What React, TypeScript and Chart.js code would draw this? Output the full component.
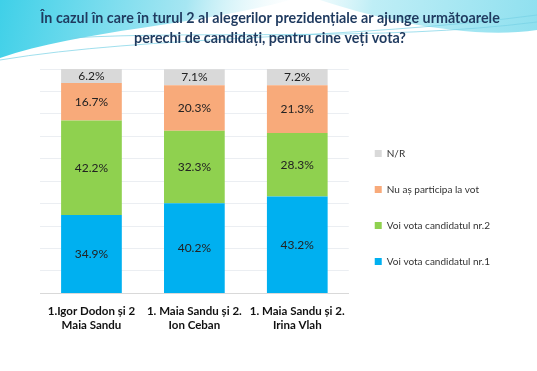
import React, { useEffect, useRef } from "react";
import { Chart, registerables } from "chart.js";

Chart.register(...registerables);

const titleLines = [
  "În cazul în care în turul 2 al alegerilor prezidențiale ar ajunge următoarele",
  "perechi de candidați, pentru cine veți vota?",
];
const categories = [
  ["1.Igor Dodon și 2", "Maia Sandu"],
  ["1. Maia Sandu și 2.", "Ion Ceban"],
  ["1. Maia Sandu și 2.", "Irina Vlah"],
];
const seriesNames = [
  "Voi vota candidatul nr.1",
  "Voi vota candidatul nr.2",
  "Nu aș participa la vot",
  "N/R",
];
const candidate1 = [34.9, 40.2, 43.2];
const candidate2 = [42.2, 32.3, 28.3];
const noVote = [16.7, 20.3, 21.3];
const noAnswer = [6.2, 7.1, 7.2];
const seriesColors = ["#00b0f0", "#8fd14f", "#f8aa7a", "#d9d9d9"];

const bgPlugin = {
  id: "bgWave",
  beforeDraw(chart: any) {
    const { ctx, width } = chart;
    ctx.save();
    ctx.fillStyle = "#ffffff";
    ctx.fillRect(0, 0, width, chart.height);
    let g = ctx.createLinearGradient(0, 0, 300, 60);
    g.addColorStop(0, "#3fd0e8");
    g.addColorStop(0.6, "#a6e6f2");
    g.addColorStop(1, "rgba(255,255,255,0)");
    ctx.fillStyle = g;
    ctx.beginPath();
    ctx.moveTo(0, 0);
    ctx.lineTo(290, 0);
    ctx.bezierCurveTo(200, 25, 80, 30, 0, 58);
    ctx.closePath();
    ctx.fill();
    g = ctx.createLinearGradient(260, 0, 537, 40);
    g.addColorStop(0, "rgba(255,255,255,0)");
    g.addColorStop(0.4, "#bfeef6");
    g.addColorStop(1, "#8fe0ef");
    ctx.fillStyle = g;
    ctx.beginPath();
    ctx.moveTo(320, 0);
    ctx.lineTo(537, 0);
    ctx.lineTo(537, 30);
    ctx.bezierCurveTo(470, 40, 380, 20, 320, 0);
    ctx.closePath();
    ctx.fill();
    ctx.strokeStyle = "rgba(120,210,230,0.7)";
    ctx.lineWidth = 1;
    ctx.beginPath();
    ctx.moveTo(0, 60);
    ctx.bezierCurveTo(150, 35, 350, 40, 537, 15);
    ctx.stroke();
    ctx.beginPath();
    ctx.moveTo(70, 38);
    ctx.bezierCurveTo(200, 30, 380, 42, 537, 22);
    ctx.stroke();
    ctx.restore();
  },
};

const labelPlugin = {
  id: "segLabels",
  afterDatasetsDraw(chart: any) {
    const { ctx } = chart;
    ctx.save();
    ctx.font = "12px Lato";
    ctx.fillStyle = "#222222";
    ctx.textAlign = "center";
    ctx.textBaseline = "middle";
    chart.data.datasets.forEach((ds: any, i: number) => {
      const meta = chart.getDatasetMeta(i);
      meta.data.forEach((el: any, j: number) => {
        const v = ds.data[j];
        ctx.fillText(v.toFixed(1) + "%", el.x, (el.y + el.base) / 2);
      });
    });
    ctx.restore();
  },
};

export default function App() {
  const ref = useRef<HTMLCanvasElement>(null);
  useEffect(() => {
    const values = [candidate1, candidate2, noVote, noAnswer];
    const chart = new Chart(ref.current as HTMLCanvasElement, {
      type: "bar",
      data: {
        labels: categories as any,
        datasets: seriesNames.map((name, i) => ({
          label: name,
          data: values[i],
          backgroundColor: seriesColors[i],
          borderWidth: 0,
          barPercentage: 0.59,
          categoryPercentage: 1,
        })),
      },
      options: {
        animation: false,
        responsive: false,
        layout: { padding: { top: 6, left: 40, right: 37, bottom: 36 } },
        plugins: {
          title: {
            display: true,
            text: titleLines,
            color: "#1f3a5f",
            font: { family: "Lato", size: 14.3, weight: "bold", lineHeight: 1.4 },
            padding: { top: 2, bottom: 21 },
          },
          legend: {
            position: "right",
            reverse: true,
            maxWidth: 200,
            title: {
              display: true,
              text: "",
              font: { size: 10, lineHeight: 1 },
              padding: { top: 0, bottom: 64 },
            },
            labels: {
              boxWidth: 7,
              boxHeight: 7,
              padding: 26,
              color: "#333333",
              font: { family: "Lato", size: 10 },
            },
          },
          tooltip: { enabled: false },
        },
        scales: {
          x: {
            stacked: true,
            grid: { display: false },
            border: { color: "#d9d9d9" },
            ticks: {
              color: "#111111",
              font: { family: "Lato", size: 11.5, weight: "bold" },
              maxRotation: 0,
              autoSkip: false,
              padding: 3,
            },
          },
          y: {
            stacked: true,
            min: 0,
            max: 100,
            ticks: { display: false, stepSize: 10 },
            border: { display: false },
            grid: { color: "#ebeef2", drawTicks: false },
          },
        },
      },
      plugins: [bgPlugin, labelPlugin],
    });
    return () => chart.destroy();
  }, []);
  return (
    <div style={{ position: "fixed", left: 0, top: 0, width: 537, height: 371 }}>
      <canvas ref={ref} width={537} height={371} style={{ width: 537, height: 371 }} />
    </div>
  );
}
